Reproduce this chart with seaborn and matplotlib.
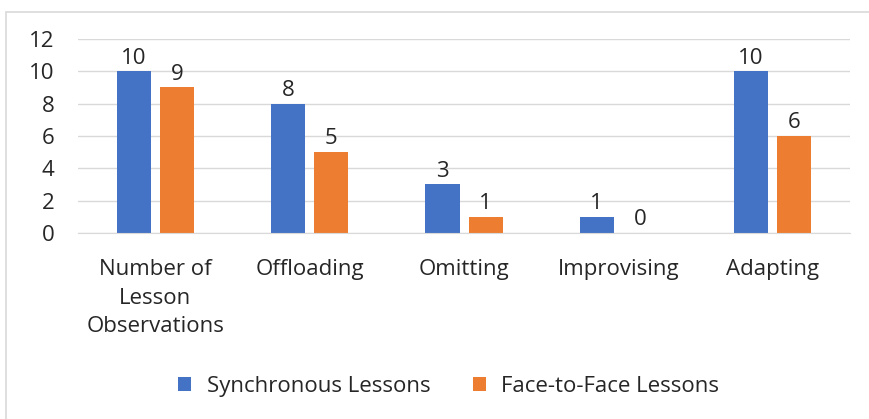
import pandas as pd
import matplotlib.pyplot as plt
import seaborn as sns
from matplotlib.patches import Rectangle

categories = ['Number of\nLesson\nObservations', 'Offloading', 'Omitting', 'Improvising', 'Adapting']
synchronous = [10, 8, 3, 1, 10]
face_to_face = [9, 5, 1, 0, 6]
series = ['Synchronous Lessons', 'Face-to-Face Lessons']
colors = ['#4472C4', '#ED7D31']

data = pd.DataFrame({
    'category': categories * 2,
    'value': synchronous + face_to_face,
    'series': [series[0]] * len(categories) + [series[1]] * len(categories),
})

sns.set_style('white')
plt.rcParams['font.family'] = ['Open Sans', 'DejaVu Sans']

fig = plt.figure(figsize=(8.69, 4.19), dpi=100)
ax = fig.add_axes([0.09, 0.444, 0.888, 0.463])

# chart frame like the office export
fig.patches.append(Rectangle((6 / 869, -0.1), 1.0, 1.1 - 12 / 419, transform=fig.transFigure,
                             fill=False, edgecolor='#D9D9D9', linewidth=1.2))

sns.barplot(data=data, x='category', y='value', hue='series', palette=colors,
            saturation=1, width=0.56, gap=0.21, linewidth=0, ax=ax, legend=True)

for container in ax.containers:
    ax.bar_label(container, fontsize=16, color='#262626', padding=2)

ax.set_ylim(0, 12)
ax.set_yticks(range(0, 13, 2))
ax.yaxis.grid(True, color='#D9D9D9', linewidth=1)
ax.set_axisbelow(True)
for s in ax.spines.values():
    s.set_visible(False)
ax.spines['bottom'].set_visible(True)
ax.spines['bottom'].set_color('#D9D9D9')
ax.tick_params(axis='both', length=0, labelsize=16, labelcolor='#262626')
ax.tick_params(axis='x', pad=19)
ax.tick_params(axis='y', pad=17)
for lbl in ax.get_xticklabels():
    lbl.set_linespacing(1.45)
ax.set_xlabel('')
ax.set_ylabel('')

ax.legend(loc='center', bbox_to_anchor=(0.48, -0.79), ncol=2, frameon=False,
          fontsize=16, handlelength=0.6, handleheight=0.6, columnspacing=1.9,
          handletextpad=0.7, labelcolor='#262626')

fig.savefig('out.png', dpi=100)
